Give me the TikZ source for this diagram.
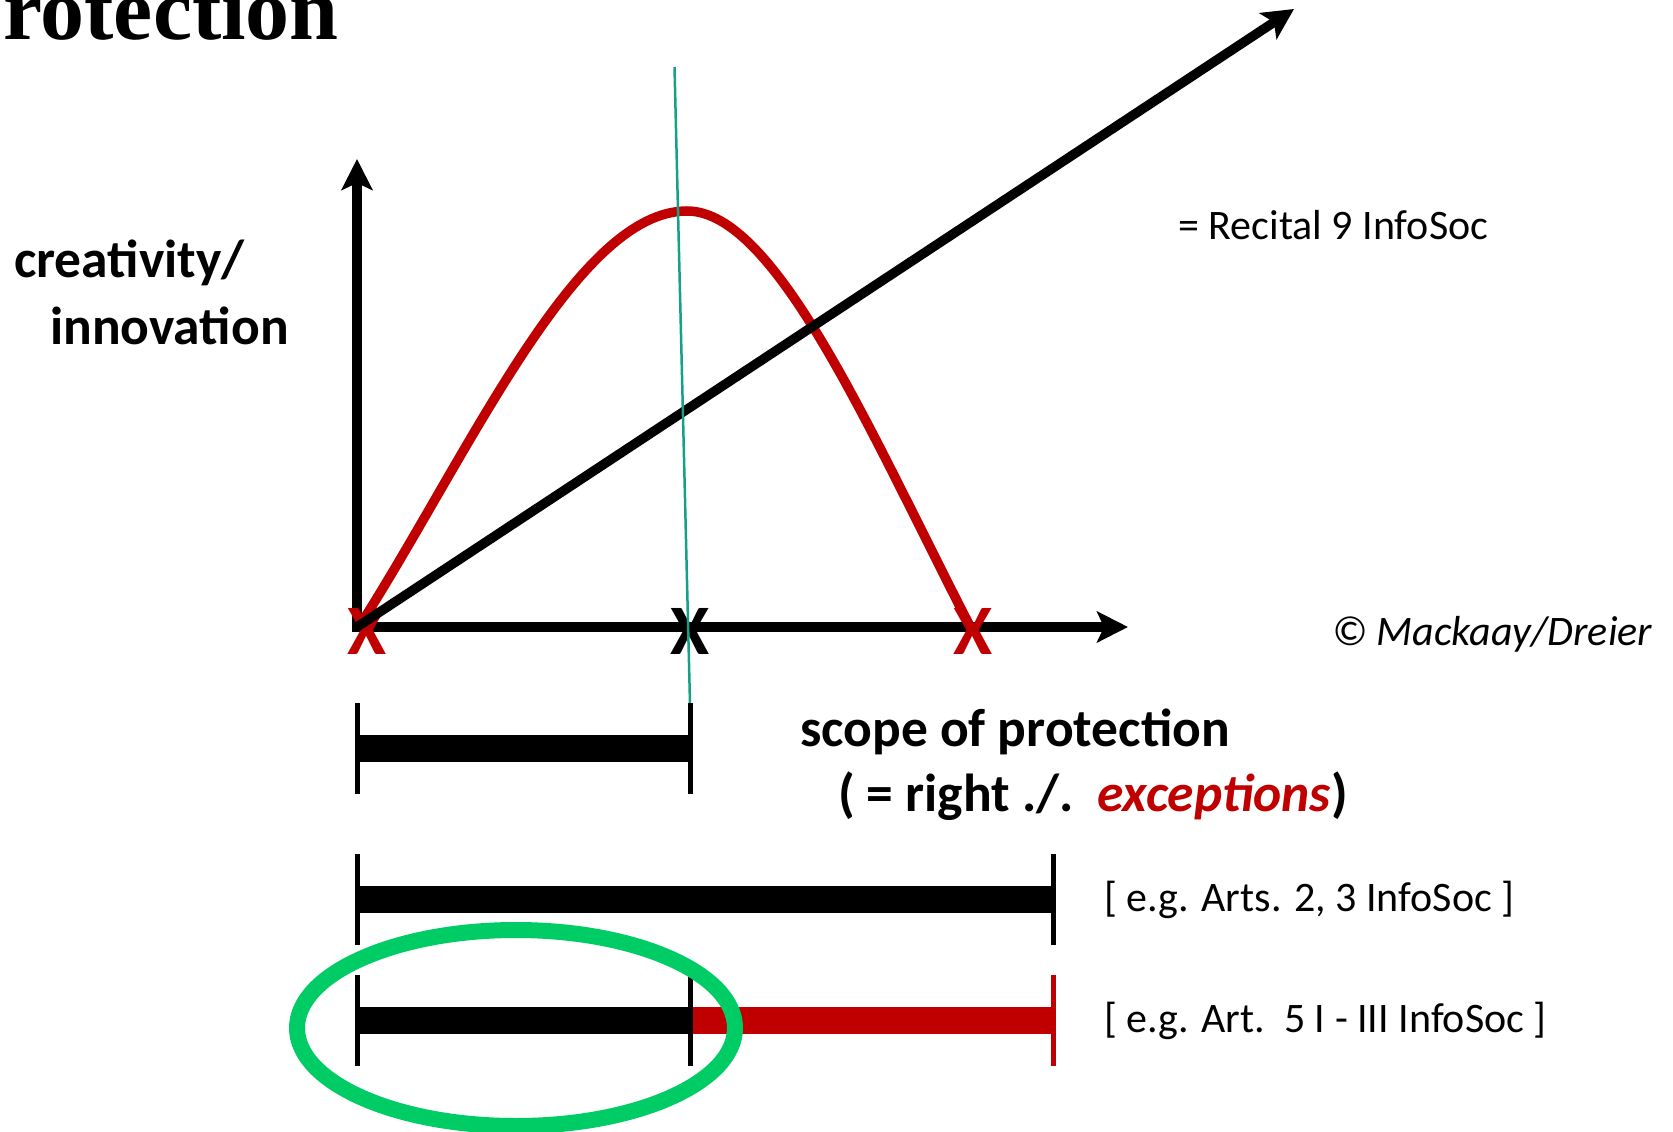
\documentclass[tikz,border=0pt]{standalone}
\usepackage{fontspec}
\setmainfont{Carlito}
\newfontfamily\titlefont{Liberation Serif}
\usetikzlibrary{arrows.meta}
\definecolor{darkred}{RGB}{192,0,0}
\definecolor{okgreen}{RGB}{0,204,102}
\definecolor{tealline}{RGB}{22,160,133}
\tikzset{
  axis/.style={line width=9.5pt, -{Stealth[length=31pt,width=31pt,inset=7pt]}},
  bar/.style={line width=27pt},
  tick/.style={line width=5pt},
  txt/.style={inner sep=0pt, anchor=west, font=\fontsize{42}{50}\selectfont},
  boldtxt/.style={inner sep=0pt, anchor=west, font=\fontsize{53.5}{62}\selectfont\bfseries},
  cross/.style={inner sep=0pt, font=\fontsize{71}{71}\selectfont\bfseries}
}
\begin{document}
\begin{tikzpicture}[x=1pt, y=-1pt]
    \clip (0,0) rectangle (1673,1132);
    % Axes
    \coordinate (O) at (357,627);
    \coordinate (ytip) at (357,159);
    \coordinate (xtip) at (1128,627);
    \coordinate (dtip) at (1294,9);
    % Curve points
    \coordinate (cstart) at (362,622);
    \coordinate (peak) at (687,211);
    \coordinate (cend) at (972,630);

    % Title (cut off at the page edge)
    \node[anchor=base west, inner sep=0pt, font=\titlefont\fontsize{88}{90}\selectfont\bfseries] (title) at (3,40) {rotection};

    % Draw axes
    \draw[axis, {Stealth[length=31pt,width=31pt,inset=7pt]}-{Stealth[length=31pt,width=31pt,inset=7pt]}, line join=miter] (ytip) |- (xtip);
    \node[cross, text=darkred] (x0) at (367,631) {X};
    % Red curve
    \draw[darkred, line width=9.5pt] (cstart) .. controls (472,448) and (577,211) .. (peak)
        .. controls (777,211) and (872,437) .. (cend);
    % Diagonal arrow
    \draw[axis] (O) -- (dtip);
    \node[cross] (x1) at (690,631) {X};
    \node[cross, text=darkred] (x2) at (973,631) {X};
    % Teal vertical
    \coordinate (ttop) at (674.5,67);
    \coordinate (tbot) at (690,704);
    \draw[tealline, line width=2.5pt] (ttop) -- (tbot);

    % Labels
    \node[boldtxt] (creat) at (14,263) {creativity/};
    \node[boldtxt] (innov) at (50,326) {innovation};
    \node[txt] (recital) at (1178,225) {= Recital 9 InfoSoc};
    \node[txt, font=\fontsize{42}{50}\selectfont\itshape] (copy) at (1332,634) {© Mackaay/Dreier};
    \node[boldtxt] (scope) at (800,732) {scope of protection};
    \node[boldtxt] (right) at (838,796) {( = right ./.\ \ \textcolor{darkred}{\itshape exceptions})};

    % Bar 1
    \coordinate (a1) at (357.5,748.5);
    \coordinate (b1) at (690.5,748.5);
    \draw[bar] (a1) -- (b1);
    \draw[tick] (a1) ++(0,-45.5) -- ++(0,91);
    \draw[tick] (b1) ++(0,-45.5) -- ++(0,91);
    % Bar 2
    \coordinate (a2) at (357.5,899.5);
    \coordinate (b2) at (1053,899.5);
    \draw[bar] (a2) -- (b2);
    \draw[tick] (a2) ++(0,-45.5) -- ++(0,91);
    \draw[tick] (b2) ++(0,-45.5) -- ++(0,91);
    \node[txt] (arts) at (1104,900) {[ e.g. Arts. 2, 3 InfoSoc ]};
    % Bar 3
    \coordinate (a3) at (357.5,1020.5);
    \coordinate (m3) at (690.5,1020.5);
    \coordinate (b3) at (1053,1020.5);
    \draw[bar] (a3) -- (m3);
    \draw[bar, darkred] (m3) -- (b3);
    \draw[tick] (a3) ++(0,-45.5) -- ++(0,91);
    \draw[tick] (m3) ++(0,-45.5) -- ++(0,91);
    \draw[tick, darkred] (b3) ++(0,-45.5) -- ++(0,91);
    \node[txt] (art5) at (1104,1021) {[ e.g. Art.\ \ 5 I - III InfoSoc ]};

    % Green ellipse
    \draw[okgreen, line width=16pt] (516,1028) ellipse [x radius=219pt, y radius=98pt];
\end{tikzpicture}
\end{document}
